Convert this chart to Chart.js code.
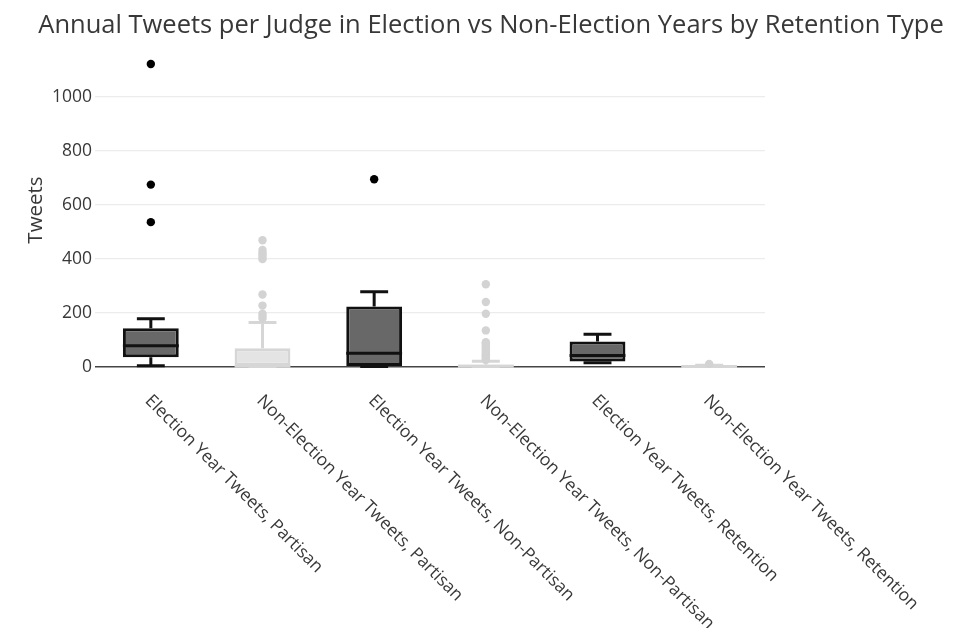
<!DOCTYPE html>
<html>
<head>
<meta charset="utf-8">
<script src="https://cdn.jsdelivr.net/npm/chart.js@4.4.1/dist/chart.umd.min.js"></script>
<style>
  html, body { margin: 0; padding: 0; background: #ffffff; }
  #wrap { width: 965px; height: 628px; position: relative; }
</style>
</head>
<body>
<div id="wrap"><canvas id="c" width="965" height="628"></canvas></div>
<script>
// Box statistics per group
const categories = [
  'Election Year Tweets, Partisan',
  'Non-Election Year Tweets, Partisan',
  'Election Year Tweets, Non-Partisan',
  'Non-Election Year Tweets, Non-Partisan',
  'Election Year Tweets, Retention',
  'Non-Election Year Tweets, Retention'
];
const whiskerLow  = [3, 0, 0, 0, 14, 0];
const q1          = [35, 0, 2, 0, 19, 0];
const median      = [77, 1, 49, 1, 41, 0];
const q3          = [142, 68, 223, 8, 93, 3];
const whiskerHigh = [177, 163, 277, 20, 120, 5];
const outliers = [
  [1121, 674, 535],
  [178, 187, 196, 226, 267, 398, 406, 414, 422, 432, 468],
  [694],
  [24, 28, 32, 36, 40, 45, 50, 56, 62, 68, 74, 80, 86, 90, 134, 196, 239, 305],
  [],
  [10]
];
const yTicks = [0, 200, 400, 600, 800, 1000];

const TITLE = 'Annual Tweets per Judge in Election vs Non-Election Years by Retention Type';
const FONT = "'Open Sans', sans-serif";
const TEXT = '#383838';

// election-year groups are dark, non-election groups are light
const isDark = categories.map(c => c.startsWith('Election'));
const lineColor = isDark.map(d => d ? '#111111' : '#d6d6d6');
const fillColor = isDark.map(d => d ? '#686868' : '#e4e4e4');
const LW = 3;

const darkPts = [], lightPts = [];
outliers.forEach((arr, i) => arr.forEach(v => (isDark[i] ? darkPts : lightPts).push({ x: categories[i], y: v })));

const boxPlugin = {
  id: 'boxParts',
  beforeDatasetsDraw(chart) {
    const { ctx, scales: { x, y } } = chart;
    const meta = chart.getDatasetMeta(0);
    ctx.save();
    categories.forEach((c, i) => {
      const cx = x.getPixelForValue(i);
      const w = meta.data[i].width;
      const cap = w / 2;
      ctx.strokeStyle = lineColor[i];
      ctx.lineWidth = LW;
      ctx.beginPath();
      ctx.moveTo(cx, y.getPixelForValue(q3[i]));
      ctx.lineTo(cx, y.getPixelForValue(whiskerHigh[i]));
      ctx.moveTo(cx - cap / 2, y.getPixelForValue(whiskerHigh[i]));
      ctx.lineTo(cx + cap / 2, y.getPixelForValue(whiskerHigh[i]));
      ctx.moveTo(cx, y.getPixelForValue(q1[i]));
      ctx.lineTo(cx, y.getPixelForValue(whiskerLow[i]));
      ctx.moveTo(cx - cap / 2, y.getPixelForValue(whiskerLow[i]));
      ctx.lineTo(cx + cap / 2, y.getPixelForValue(whiskerLow[i]));
      ctx.stroke();
    });
    ctx.restore();
  },
  afterDatasetDraw(chart, args) {
    if (args.index !== 0) return;
    const { ctx, scales: { x, y } } = chart;
    const meta = chart.getDatasetMeta(0);
    ctx.save();
    categories.forEach((c, i) => {
      const cx = x.getPixelForValue(i);
      const w = meta.data[i].width;
      const my = y.getPixelForValue(median[i]);
      ctx.strokeStyle = lineColor[i];
      ctx.lineWidth = LW;
      ctx.beginPath();
      ctx.moveTo(cx - w / 2, my);
      ctx.lineTo(cx + w / 2, my);
      ctx.stroke();
    });
    ctx.restore();
  },
  afterDraw(chart) {
    const { ctx, scales: { x } } = chart;
    ctx.save();
    ctx.fillStyle = TEXT;
    ctx.font = "25.5px " + FONT;
    ctx.textAlign = 'center';
    ctx.textBaseline = 'alphabetic';
    ctx.fillText(TITLE, 491, 33);
    ctx.font = "17.5px " + FONT;
    ctx.textAlign = 'left';
    ctx.textBaseline = 'middle';
    categories.forEach((c, i) => {
      const px = x.getPixelForValue(i);
      ctx.save();
      ctx.translate(px - 3, 398);
      ctx.rotate(Math.PI / 4);
      ctx.fillText(c, 0, 0);
      ctx.restore();
    });
    ctx.restore();
  }
};

new Chart(document.getElementById('c'), {
  data: {
    labels: categories,
    datasets: [
      {
        type: 'bar',
        data: categories.map((c, i) => [q1[i], q3[i]]),
        backgroundColor: fillColor,
        borderColor: lineColor,
        borderWidth: LW,
        borderSkipped: false,
        barPercentage: 0.5,
        categoryPercentage: 1,
        order: 2
      },
      {
        type: 'line',
        data: darkPts,
        showLine: false,
        pointRadius: 4.2,
        pointBackgroundColor: '#000000',
        pointBorderWidth: 0,
        order: 1
      },
      {
        type: 'line',
        data: lightPts,
        showLine: false,
        pointRadius: 4.2,
        pointBackgroundColor: '#d3d3d3',
        pointBorderWidth: 0,
        order: 1
      }
    ]
  },
  options: {
    responsive: false,
    animation: false,
    layout: { padding: { top: 48, right: 200, left: 0, bottom: 0 } },
    plugins: { legend: { display: false }, tooltip: { enabled: false }, title: { display: false } },
    scales: {
      x: {
        type: 'category',
        offset: true,
        grid: { display: false },
        border: { display: false },
        ticks: { display: false },
        afterFit(s) { s.height = 256; }
      },
      y: {
        min: -20,
        max: 1180,
        afterBuildTicks(s) { s.ticks = yTicks.map(v => ({ value: v })); },
        afterFit(s) { s.width = 95; },
        border: { display: false },
        grid: {
          drawTicks: false,
          color: ctx => ctx.tick && ctx.tick.value === 0 ? '#444444' : '#ececec',
          lineWidth: ctx => ctx.tick && ctx.tick.value === 0 ? 1.5 : 1.2
        },
        ticks: {
          color: TEXT,
          font: { family: FONT, size: 17.5 },
          padding: 3,
          callback: v => String(v)
        },
        title: {
          display: true,
          text: 'Tweets',
          color: TEXT,
          font: { family: FONT, size: 20.5 },
          padding: { top: 24, bottom: 0 }
        }
      }
    }
  },
  plugins: [boxPlugin]
});
</script>
</body>
</html>
